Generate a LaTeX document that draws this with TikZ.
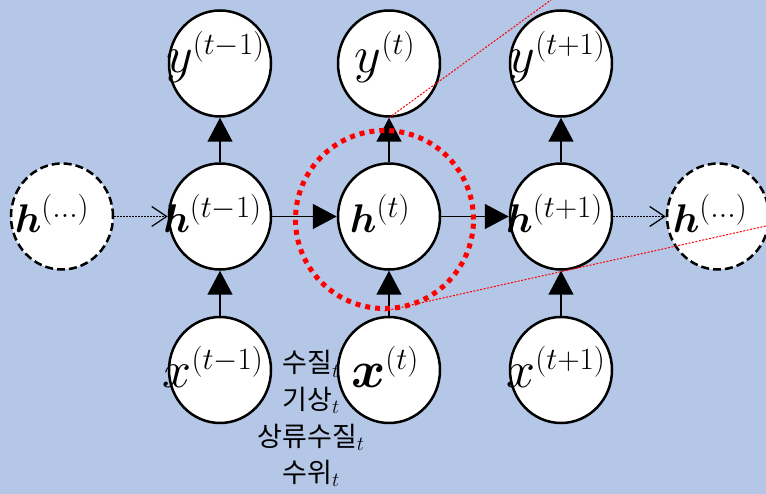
\RequirePackage{fix-cm}
\documentclass[tikz,border=0pt]{standalone}
\usepackage{amsmath}
\usepackage{fontspec}
\newfontfamily\kr{Noto Sans CJK KR}
\usetikzlibrary{shapes.geometric,arrows.meta}
\DeclareMathSizes{40}{40}{31}{22}
\DeclareMathSizes{52}{52}{31}{22}
\DeclareMathSizes{27}{27}{20}{14}
\definecolor{bg}{RGB}{180,199,231}
\tikzset{
  unit/.style={ellipse, draw, line width=2.5pt, fill=white, minimum width=102pt, minimum height=106pt, inner sep=0pt},
  ghost/.style={unit, dash pattern=on 8pt off 4pt},
  lbl/.style={font=\fontsize{40}{48}\selectfont, inner sep=0pt, anchor=base},
  lblxy/.style={font=\fontsize{52}{60}\selectfont, inner sep=0pt, anchor=base},
  kor/.style={font=\kr\fontsize{27}{32}\selectfont, inner sep=0pt, anchor=base},
  flow/.style={line width=1.5pt, -{Triangle[length=24pt,width=25pt]}},
  faint/.style={line width=1.2pt, dash pattern=on 1.5pt off 1.5pt, -{Straight Barb[length=15pt,width=20pt,line width=1.2pt]}},
  focusring/.style={circle, draw=red, line width=5pt, dash pattern=on 5pt off 5pt, minimum size=178pt, inner sep=0pt},
  zoomline/.style={red, line width=1pt, dash pattern=on 2pt off 1.5pt}
}
\begin{document}
\begin{tikzpicture}[x=1pt,y=-1pt]
\useasboundingbox (0,0) rectangle (766,494);
\clip (0,0) rectangle (766,494);
\fill[bg] (0,0) rectangle (766,494);
% Korean input labels (beneath the circles)
\node[kor] (k1) at (311,373) {수질$_t$};
\node[kor] (k2) at (311,409) {기상$_t$};
\node[kor] (k3) at (311,446) {상류수질$_t$};
\node[kor] (k4) at (311,482) {수위$_t$};
% circles
\node[unit] (y1) at (220,63.5) {};
\node[unit] (y2) at (389,63.5) {};
\node[unit] (y3) at (561,63.5) {};
\node[ghost] (hL) at (62,216.5) {};
\node[unit] (h1) at (220,216.5) {};
\node[unit] (h2) at (389,216.5) {};
\node[unit] (h3) at (561,216.5) {};
\node[ghost] (hR) at (718,216.5) {};
\node[unit] (x1) at (220,370) {};
\node[unit] (x2) at (389,370) {};
\node[unit] (x3) at (561,370) {};
% connectors
\draw[flow] (x1) -- (h1);
\draw[flow] (x2) -- (h2);
\draw[flow] (x3) -- (h3);
\draw[flow] (h1) -- (y1);
\draw[flow] (h2) -- (y2);
\draw[flow] (h3) -- (y3);
\draw[flow] (h1) -- (h2);
\draw[flow] (h2) -- (h3);
\draw[faint] (hL) -- (h1);
\draw[faint] (h3) -- (hR);
% labels
\node[lblxy] (ty1) at (215.5,73) {$y^{(t-1)}$};
\node[lblxy] (ty2) at (385,73) {$y^{(t)}$};
\node[lblxy] (ty3) at (557,73) {$y^{(t+1)}$};
\node[lbl] (thL) at (52,233) {$\boldsymbol{h}^{(\ldots)}$};
\node[lbl] (th1) at (212.5,233) {$\boldsymbol{h}^{(t-1)}$};
\node[lbl] (th2) at (380,233) {$\boldsymbol{h}^{(t)}$};
\node[lbl] (th3) at (554.5,233) {$\boldsymbol{h}^{(t+1)}$};
\node[lbl] (thR) at (710,233) {$\boldsymbol{h}^{(\ldots)}$};
\node[lblxy] (tx1) at (213,388) {$x^{(t-1)}$};
\node[lblxy] (tx2) at (385,388) {$\boldsymbol{x}^{(t)}$};
\node[lblxy] (tx3) at (556,388) {$x^{(t+1)}$};
% focus ring and zoom lines
\node[focusring] (focus) at (384.5,219.5) {};
\coordinate (z1) at (551,0);
\coordinate (z2) at (766,226);
\draw[zoomline] (y2.south) -- (z1);
\draw[zoomline] (focus.south) -- (z2);
\end{tikzpicture}
\end{document}
